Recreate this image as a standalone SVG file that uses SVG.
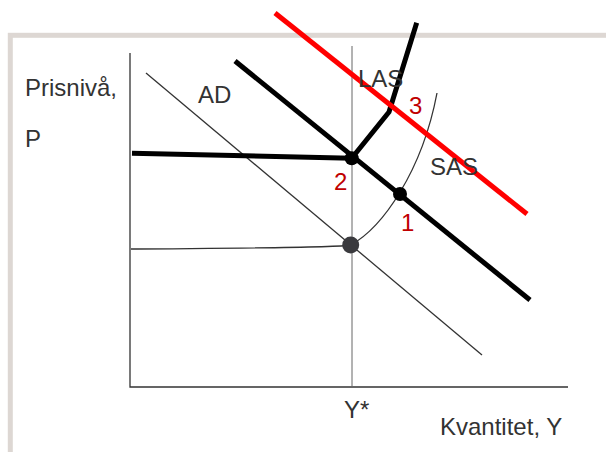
<svg xmlns="http://www.w3.org/2000/svg" width="606" height="452" viewBox="0 0 606 452">
<style>
.t{font-family:"Liberation Sans",Arial,sans-serif;font-size:24px;fill:#333333}
.r{font-family:"Liberation Sans",Arial,sans-serif;font-size:24px;fill:#c00000}
.thin{fill:none;stroke:#333333;stroke-width:1.3}
.grid{fill:none;stroke:#666666;stroke-width:1}
.thick{fill:none;stroke:#000000;stroke-width:5;stroke-linejoin:round}
.red{fill:none;stroke:#ff0000;stroke-width:5}
</style>
<rect x="0" y="0" width="606" height="452" fill="#ffffff"/>
<rect id="frame" x="10.3" y="35.3" width="700" height="500" fill="#ffffff" stroke="#ddd7d3" stroke-width="5"/>
<g id="axes">
<path class="thin" d="M130,53 V387 H568" stroke-width="2"/>
<line class="grid" x1="352" y1="46" x2="352" y2="387"/>
</g>
<g id="connectors">
<line id="AD" class="thin" x1="146" y1="73" x2="482" y2="355"/>
<path id="SAS" class="thin" d="M131,249 C250,248 335,248 350.7,245 C382,228 422,172 437,93"/>
<line id="AD2" class="thick" x1="235" y1="61" x2="530" y2="300"/>
<path id="LAS2" class="thick" d="M132,153.3 L351.7,158.3 L389,112 L416.7,22.7"/>
<line id="AD3" class="red" x1="275" y1="13" x2="527" y2="214"/>
</g>
<g id="point0"><circle cx="350.7" cy="245" r="8.5" fill="#3a3a3e"/></g>
<g id="point2"><circle cx="351.7" cy="158.3" r="7" fill="#000000"/><text class="r" x="334" y="190">2</text></g>
<g id="point1"><circle cx="400" cy="194" r="7" fill="#000000"/><text class="r" x="401" y="230.5">1</text></g>
<g id="point3"><text class="r" x="409" y="113.5">3</text></g>
<g id="labels">
<text class="t" x="25" y="96">Prisnivå,</text>
<text class="t" x="25" y="147.3">P</text>
<text class="t" x="198" y="102.7">AD</text>
<text class="t" x="358" y="86.7">LAS</text>
<text class="t" x="430" y="175">SAS</text>
<text class="t" x="344" y="418">Y*</text>
<text class="t" x="440" y="435">Kvantitet, Y</text>
</g>
</svg>
